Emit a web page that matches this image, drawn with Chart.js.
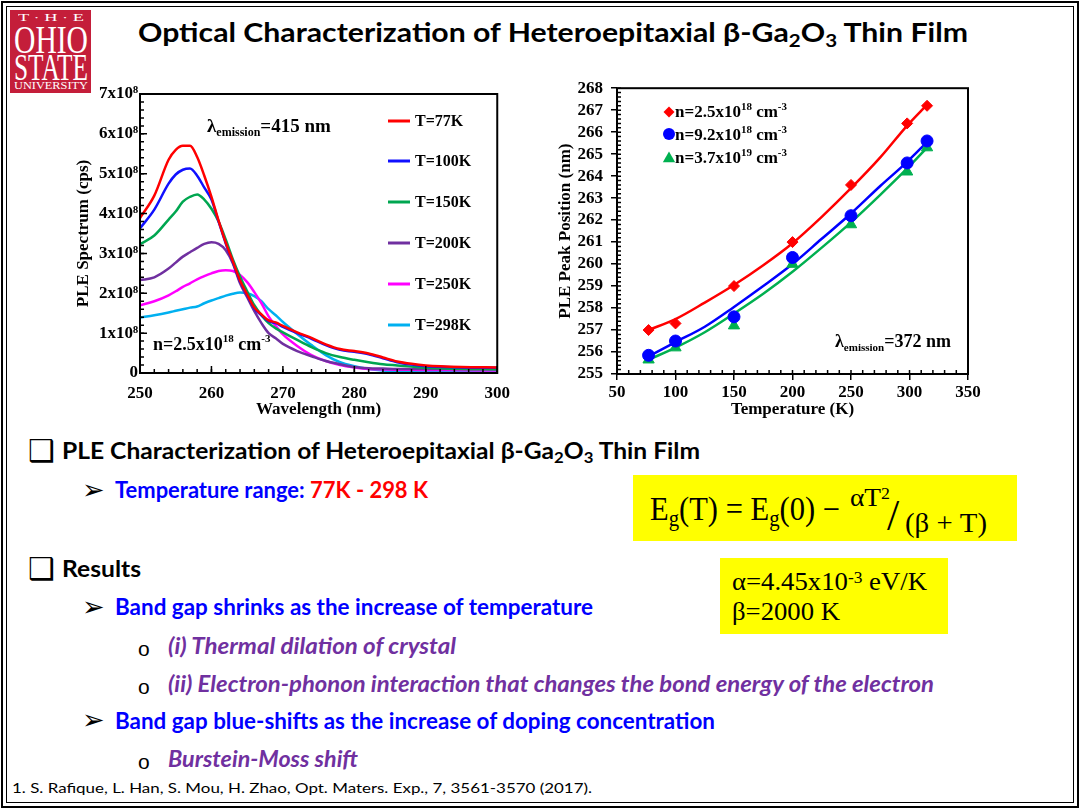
<!DOCTYPE html>
<html>
<head>
<meta charset="utf-8">
<script src="https://cdn.jsdelivr.net/npm/chart.js@4.4.0/dist/chart.umd.min.js"></script>
<style>
  html, body { margin: 0; padding: 0; background: #fff; }
  #slide { position: relative; width: 1080px; height: 810px; overflow: hidden; background: #fff; }
  .frame-o { position: absolute; left: 1px; top: 1px; right: 1px; bottom: 2px; border: 2px solid #000; }
  .frame-i { position: absolute; left: 6px; top: 6px; right: 6px; bottom: 7px; border: 1px solid #000; }
  .t { position: absolute; white-space: nowrap; line-height: 0; transform-origin: 0 0; }
  .b { font-family: Lato, "Open Sans", sans-serif; font-weight: 700; font-size: 22px; }
  .blue { color: #0000ff; }
  .red { color: #ff0000; }
  .purple { color: #7030a0; font-style: italic; }
  .mark { position: absolute; line-height: 0; font-family: "DejaVu Sans", sans-serif; }
  .dot { position: absolute; line-height: 0; font-family: "Liberation Sans", sans-serif; font-size: 21px; }
  .ser { font-family: "Liberation Serif", "Times New Roman", serif; }
  sub { vertical-align: baseline; position: relative; top: 0.28em; font-size: 0.68em; }
  sup { vertical-align: baseline; position: relative; top: -0.42em; font-size: 0.65em; }
  #logo { position: absolute; left: 10px; top: 10px; width: 81px; height: 83px; background: #c41e3a; }
  #logo .t { color: #fff; font-family: "Liberation Serif", serif; }
  .yel { position: absolute; background: #ffff00; }
  .chart { position: absolute; }
</style>
</head>
<body>
<div id="slide">
  <div class="frame-o"></div>
  <div class="frame-i"></div>

  <div id="logo">
    <div class="t" data-w="66" style="left:8px;top:7.6px;font-size:10px;">T · H · E</div>
    <div class="t" data-w="74" style="left:4px;top:29.5px;font-size:40px;">OHIO</div>
    <div class="t" data-w="74" style="left:4px;top:57.2px;font-size:38px;">STATE</div>
    <div class="t" data-w="74" style="left:4px;top:75.3px;font-size:11px;">UNIVERSITY</div>
  </div>

  <div class="t b" data-w="830" style="left:138px;top:32px;font-size:26px;">Optical Characterization of Heteroepitaxial β-Ga<sub>2</sub>O<sub>3</sub> Thin Film</div>

  <div class="chart" style="left:60px;top:80px;width:460px;height:345px;"><canvas id="pleChart"></canvas></div>
  <div class="chart" style="left:540px;top:70px;width:450px;height:350px;"><canvas id="peakChart"></canvas></div>

  <!-- bullets -->
  <div class="mark" style="left:28px;top:450.6px;font-size:30px;">❑</div>
  <div class="t b" data-w="638" style="left:62px;top:450.5px;">PLE Characterization of Heteroepitaxial β-Ga<sub>2</sub>O<sub>3</sub> Thin Film</div>

  <div class="mark" style="left:82px;top:490.2px;font-size:27px;">➢</div>
  <div class="t b" data-w="313" style="left:115px;top:489.5px;"><span class="blue">Temperature range: </span><span class="red">77K - 298 K</span></div>

  <div class="mark" style="left:28px;top:568.6px;font-size:30px;">❑</div>
  <div class="t b" data-w="79" style="left:62px;top:568.5px;">Results</div>

  <div class="mark" style="left:82px;top:607.2px;font-size:27px;">➢</div>
  <div class="t b blue" data-w="478" style="left:115px;top:606.5px;">Band gap shrinks as the increase of temperature</div>

  <div class="dot" style="left:138px;top:648.5px;">o</div>
  <div class="t b purple" data-w="288" style="left:168px;top:645.5px;">(i) Thermal dilation of crystal</div>

  <div class="dot" style="left:138px;top:686.5px;">o</div>
  <div class="t b purple" data-w="766" style="left:168px;top:683.5px;">(ii) Electron-phonon interaction that changes the bond energy of the electron</div>

  <div class="mark" style="left:82px;top:720.2px;font-size:27px;">➢</div>
  <div class="t b blue" data-w="600" style="left:115px;top:720.5px;">Band gap blue-shifts as the increase of doping concentration</div>

  <div class="dot" style="left:138px;top:761.5px;">o</div>
  <div class="t b purple" data-w="190" style="left:168px;top:758.5px;">Burstein-Moss shift</div>

  <div class="t" data-w="580" style="left:12px;top:787.6px;font-family:Lato,sans-serif;font-size:14px;">1. S. Rafique, L. Han, S. Mou, H. Zhao, Opt. Maters. Exp., 7, 3561-3570 (2017).</div>

  <!-- formula boxes -->
  <div class="yel" style="left:633px;top:475px;width:384px;height:66px;"></div>
  <div class="t ser" data-w="190" style="left:650px;top:508.9px;font-size:33px;">E<sub>g</sub>(T) = E<sub>g</sub>(0) −</div>
  <div class="t ser" data-w="40" style="left:850px;top:498.2px;font-size:26px;">αT<sup>2</sup></div>
  <div class="t ser" style="left:887px;top:516px;font-size:44px;">/</div>
  <div class="t ser" data-w="82" style="left:905px;top:522.9px;font-size:27px;">(β + T)</div>

  <div class="yel" style="left:720px;top:558px;width:228px;height:76px;"></div>
  <div class="t ser" data-w="195" style="left:732px;top:581.6px;font-size:25px;">α=4.45x10<sup>-3</sup> eV/K</div>
  <div class="t ser" data-w="108" style="left:732px;top:611.6px;font-size:25px;">β=2000 K</div>
</div>

<script>
// ---- PLE spectra (left), intensity in units of 1e8 cps ----
const wavelengthNm = [250, 252, 254, 255, 256, 257, 258, 259, 260, 261, 262, 263, 264, 265, 266, 267, 268, 269, 270, 272, 274, 276, 278, 280, 282, 284, 286, 288, 290, 295, 300];
const ple77K  = [3.89, 4.45, 5.35, 5.6, 5.7, 5.7, 5.42, 4.95, 4.42, 3.82, 3.27, 2.8, 2.32, 1.97, 1.64, 1.47, 1.32, 1.27, 1.18, 1.02, 0.88, 0.72, 0.6, 0.55, 0.49, 0.39, 0.29, 0.23, 0.19, 0.15, 0.14];
const ple100K = [3.63, 4.1, 4.75, 4.98, 5.1, 5.13, 4.95, 4.65, 4.35, 3.8, 3.25, 2.78, 2.3, 1.95, 1.62, 1.45, 1.3, 1.25, 1.16, 1.0, 0.86, 0.7, 0.58, 0.53, 0.47, 0.37, 0.27, 0.21, 0.17, 0.14, 0.13];
const ple150K = [3.23, 3.45, 3.85, 4.05, 4.3, 4.42, 4.48, 4.35, 4.12, 3.8, 3.35, 2.85, 2.42, 2.05, 1.7, 1.45, 1.25, 1.12, 1.02, 0.83, 0.65, 0.5, 0.4, 0.33, 0.27, 0.22, 0.19, 0.16, 0.13, 0.1, 0.09];
const ple200K = [2.33, 2.4, 2.62, 2.77, 2.92, 3.03, 3.14, 3.24, 3.28, 3.24, 3.08, 2.75, 2.25, 1.9, 1.55, 1.25, 1.0, 0.87, 0.73, 0.55, 0.42, 0.3, 0.22, 0.15, 0.12, 0.11, 0.1, 0.1, 0.1, 0.1, 0.1];
const ple250K = [1.7, 1.8, 1.95, 2.05, 2.16, 2.25, 2.35, 2.43, 2.5, 2.56, 2.58, 2.56, 2.46, 2.28, 2.03, 1.75, 1.42, 1.18, 0.97, 0.68, 0.45, 0.3, 0.2, 0.14, 0.1, 0.09, 0.08, 0.08, 0.075, 0.07, 0.06];
const ple298K = [1.39, 1.45, 1.52, 1.56, 1.6, 1.64, 1.67, 1.75, 1.82, 1.88, 1.94, 1.99, 2.02, 2.0, 1.93, 1.8, 1.6, 1.45, 1.28, 0.98, 0.7, 0.45, 0.27, 0.17, 0.1, 0.06, 0.04, 0.03, 0.03, 0.02, 0.02];
const pleSeries = [ple77K, ple100K, ple150K, ple200K, ple250K, ple298K];
const pleLabels = ['T=77K', 'T=100K', 'T=150K', 'T=200K', 'T=250K', 'T=298K'];
const pleColors = ['#ff0000', '#1010ff', '#00a650', '#7030a0', '#ff00ff', '#00b0f0'];
const pleYTickLabels = ['0', '1x10⁸', '2x10⁸', '3x10⁸', '4x10⁸', '5x10⁸', '6x10⁸', '7x10⁸'];

// ---- PLE peak position vs temperature (right) ----
const tempK = [77, 100, 150, 200, 250, 298, 315];
const peakN25e18 = [257.0, 257.3, 259.0, 261.0, 263.6, 266.4, 267.2];
const peakN92e18 = [255.85, 256.5, 257.6, 260.3, 262.2, 264.6, 265.6];
const peakN37e19 = [255.65, 256.2, 257.2, 260.0, 261.8, 264.2, 265.3];
const fitTempK = [77, 100, 125, 150, 175, 200, 225, 250, 275, 298, 315];
const fitN25e18 = [257.0, 257.5, 258.25, 259.05, 259.95, 260.95, 262.15, 263.45, 264.85, 266.3, 267.25];
const fitN92e18 = [255.8, 256.45, 257.15, 258.05, 259.0, 260.0, 261.15, 262.3, 263.55, 264.65, 265.55];
const fitN37e19 = [255.65, 256.2, 256.9, 257.75, 258.65, 259.65, 260.75, 261.9, 263.15, 264.35, 265.3];
const peakLabels = [['n=2.5x10', '18'], ['n=9.2x10', '18'], ['n=3.7x10', '19']];
const peakColors = ['#ff0000', '#0000ff', '#00b050'];
const peakStyles = ['rectRot', 'circle', 'triangle'];

// fit text widths to the slide
document.querySelectorAll('[data-w]').forEach(el => {
  const w = el.getBoundingClientRect().width;
  if (w > 0) el.style.transform = `scaleX(${el.dataset.w / w})`;
});

Chart.defaults.font.family = '"Liberation Serif", "Times New Roman", serif';
Chart.defaults.font.size = 17;
Chart.defaults.font.weight = 'bold';
Chart.defaults.color = '#000';
Chart.defaults.animation = false;

const SERIF = '"Liberation Serif", "Times New Roman", serif';

function drawRich(ctx, x, y, parts) {
  ctx.save();
  ctx.fillStyle = '#000';
  ctx.textAlign = 'left';
  ctx.textBaseline = 'alphabetic';
  for (const p of parts) {
    ctx.font = `bold ${p.s}px ${SERIF}`;
    ctx.fillText(p.t, x, y + (p.dy || 0));
    x += ctx.measureText(p.t).width;
  }
  ctx.restore();
}

function innerTicks(chart, id, from, to, step, len) {
  const sc = chart.scales[id];
  const a = chart.chartArea;
  const ctx = chart.ctx;
  const n = Math.round((to - from) / step);
  ctx.beginPath();
  for (let i = 0; i <= n; i++) {
    const p = sc.getPixelForValue(from + i * step);
    if (sc.isHorizontal()) { ctx.moveTo(p, a.bottom); ctx.lineTo(p, a.bottom - len); }
    else { ctx.moveTo(a.left, p); ctx.lineTo(a.left + len, p); }
  }
  ctx.stroke();
}

function frame(chart) {
  const { ctx, chartArea: a } = chart;
  ctx.save();
  ctx.strokeStyle = '#000';
  ctx.lineWidth = 2;
  ctx.strokeRect(a.left, a.top, a.right - a.left, a.bottom - a.top);
  ctx.restore();
}

const pleDecor = {
  id: 'pleDecor',
  afterDraw(chart) {
    const ctx = chart.ctx;
    frame(chart);
    ctx.save();
    ctx.strokeStyle = '#000';
    ctx.lineWidth = 1.5;
    innerTicks(chart, 'x', 250, 300, 10, 7);
    innerTicks(chart, 'x', 250, 300, 2, 4);
    innerTicks(chart, 'y', 0, 7, 1, 7);
    innerTicks(chart, 'y', 0, 7, 0.2, 4);
    ctx.restore();

    // legend
    const rows = [41, 81, 122, 163, 204, 245];
    ctx.save();
    chart.data.datasets.forEach((ds, i) => {
      ctx.strokeStyle = ds.borderColor;
      ctx.lineWidth = 3;
      ctx.beginPath();
      ctx.moveTo(328, rows[i]);
      ctx.lineTo(350, rows[i]);
      ctx.stroke();
      ctx.fillStyle = '#000';
      ctx.font = `bold 16px ${SERIF}`;
      ctx.textBaseline = 'middle';
      ctx.fillText(ds.label, 355, rows[i] + 1);
    });
    ctx.restore();

    drawRich(ctx, 147, 52, [{ t: 'λ', s: 19 }, { t: 'emission', s: 12, dy: 4 }, { t: '=415 nm', s: 19 }]);
    drawRich(ctx, 93, 270, [{ t: 'n=2.5x10', s: 18 }, { t: '18', s: 11, dy: -8 }, { t: ' cm', s: 18 }, { t: '-3', s: 11, dy: -8 }]);
  }
};

new Chart(document.getElementById('pleChart'), {
  type: 'line',
  data: {
    datasets: pleSeries.map((vals, i) => ({
      label: pleLabels[i],
      data: wavelengthNm.map((w, j) => ({ x: w, y: vals[j] })),
      borderColor: pleColors[i],
      borderWidth: 2.5,
      pointRadius: 0,
      cubicInterpolationMode: 'monotone',
      fill: false,
    })),
  },
  options: {
    responsive: true,
    maintainAspectRatio: false,
    layout: { padding: { left: 0, top: 14, right: 18, bottom: 0 } },
    plugins: { legend: { display: false }, tooltip: { enabled: false } },
    scales: {
      x: {
        type: 'linear', min: 250, max: 300,
        ticks: { stepSize: 10, padding: 10, maxRotation: 0, autoSkip: false },
        grid: { display: false, drawTicks: false },
        border: { display: false },
        title: { display: true, text: 'Wavelength (nm)', padding: { top: 0, bottom: 5 } },
        afterFit(s) { s.height = 52; },
      },
      y: {
        min: 0, max: 7,
        ticks: { stepSize: 1, padding: 2, autoSkip: false, callback: v => pleYTickLabels[v] },
        grid: { display: false, drawTicks: false },
        border: { display: false },
        title: { display: true, text: 'PLE Spectrum (cps)', padding: { top: 13, bottom: 0 } },
        afterFit(s) { s.width = 80; },
      },
    },
  },
  plugins: [pleDecor],
});

function drawMarker(ctx, style, x, y, r, color) {
  ctx.fillStyle = color;
  ctx.beginPath();
  if (style === 'circle') {
    ctx.arc(x, y, r, 0, Math.PI * 2);
  } else if (style === 'rectRot') {
    ctx.moveTo(x, y - r); ctx.lineTo(x + r, y); ctx.lineTo(x, y + r); ctx.lineTo(x - r, y);
  } else {
    ctx.moveTo(x, y - r); ctx.lineTo(x + r * 0.95, y + r * 0.65); ctx.lineTo(x - r * 0.95, y + r * 0.65);
  }
  ctx.closePath();
  ctx.fill();
}

const peakDecor = {
  id: 'peakDecor',
  afterDraw(chart) {
    const ctx = chart.ctx;
    frame(chart);
    ctx.save();
    ctx.strokeStyle = '#000';
    ctx.lineWidth = 1.5;
    innerTicks(chart, 'x', 50, 350, 10, 4);
    innerTicks(chart, 'y', 255, 268, 0.2, 4);
    ctx.restore();

    const markY = [42, 64, 88];
    const textY = [47, 69.5, 93];
    const radii = [5.5, 6, 6.5];
    peakLabels.forEach((lab, i) => {
      drawMarker(ctx, peakStyles[i], 129, markY[i], radii[i], peakColors[i]);
      drawRich(ctx, 135, textY[i], [{ t: lab[0], s: 17 }, { t: lab[1], s: 11, dy: -7 }, { t: ' cm', s: 17 }, { t: '-3', s: 11, dy: -7 }]);
    });
    drawRich(ctx, 295, 277, [{ t: 'λ', s: 18 }, { t: 'emission', s: 11, dy: 4 }, { t: '=372 nm', s: 18 }]);
  }
};

const peakPointSets = [peakN25e18, peakN92e18, peakN37e19];
const peakFitSets = [fitN25e18, fitN92e18, fitN37e19];

new Chart(document.getElementById('peakChart'), {
  type: 'line',
  data: {
    datasets: [
      ...peakPointSets.map((vals, i) => ({
        label: peakLabels[i].join(''),
        data: tempK.map((t, j) => ({ x: t, y: vals[j] })),
        showLine: false,
        pointStyle: peakStyles[i],
        pointRadius: [5.5, 6, 6.5][i],
        pointBackgroundColor: peakColors[i],
        pointBorderColor: peakColors[i],
        pointBorderWidth: 1,
        order: 0,
      })),
      ...peakFitSets.map((vals, i) => ({
        label: 'fit ' + i,
        data: fitTempK.map((t, j) => ({ x: t, y: vals[j] })),
        borderColor: peakColors[i],
        borderWidth: 2.5,
        pointRadius: 0,
        cubicInterpolationMode: 'monotone',
        fill: false,
        order: 1,
      })),
    ],
  },
  options: {
    responsive: true,
    maintainAspectRatio: false,
    layout: { padding: { left: 0, top: 14, right: 22, bottom: 0 } },
    plugins: { legend: { display: false }, tooltip: { enabled: false } },
    scales: {
      x: {
        type: 'linear', min: 50, max: 350,
        ticks: { stepSize: 50, padding: 2, maxRotation: 0, autoSkip: false },
        grid: { drawOnChartArea: false, drawTicks: true, tickLength: 6, color: '#000', lineWidth: 1.5 },
        border: { display: false },
        title: { display: true, text: 'Temperature (K)', padding: { top: 0, bottom: 0 } },
        afterFit(s) { s.height = 46; },
      },
      y: {
        min: 255, max: 268,
        ticks: { stepSize: 1, padding: 8, autoSkip: false },
        grid: { drawOnChartArea: false, drawTicks: true, tickLength: 6, color: '#000', lineWidth: 1.5 },
        border: { display: false },
        title: { display: true, text: 'PLE Peak Position (nm)', padding: { top: 15, bottom: 0 } },
        afterFit(s) { s.width = 77; },
      },
    },
  },
  plugins: [peakDecor],
});
</script>
</body>
</html>
